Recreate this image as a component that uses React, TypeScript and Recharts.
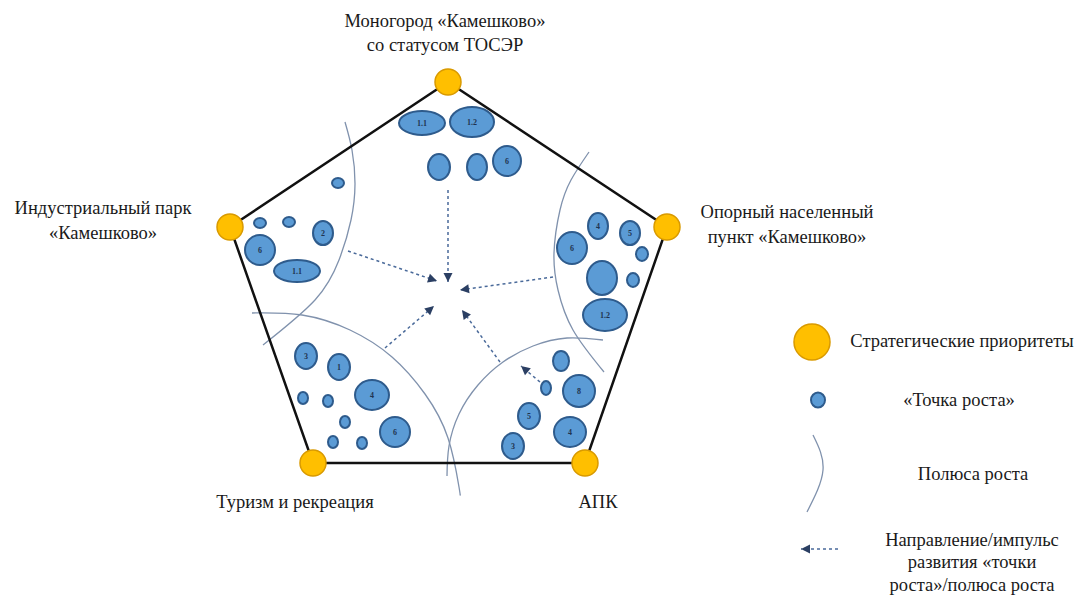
import React from "react";
import { ComposedChart, XAxis, YAxis, Line, Scatter } from "recharts";

// vertices of the pentagon (strategic priorities), closed
const priorities = [
  { x: 448, y: 82 },
  { x: 667, y: 227 },
  { x: 585, y: 463 },
  { x: 313, y: 463 },
  { x: 230, y: 227 },
];
const pentagon = [...priorities, priorities[0]];

// "точки роста"
const growthPoints = [
  // top
  { x: 422, y: 123, rx: 23, ry: 12, label: "1.1" },
  { x: 472, y: 122, rx: 22, ry: 15, label: "1.2" },
  { x: 439, y: 167, rx: 11, ry: 13, label: "" },
  { x: 477, y: 167, rx: 10, ry: 13, label: "" },
  { x: 507, y: 161, rx: 14, ry: 15, label: "6" },
  // left
  { x: 338, y: 183, rx: 6, ry: 5, label: "" },
  { x: 260, y: 223, rx: 6, ry: 5, label: "" },
  { x: 289, y: 222, rx: 6, ry: 5, label: "" },
  { x: 323, y: 233, rx: 10, ry: 12, label: "2" },
  { x: 260, y: 250, rx: 15, ry: 15, label: "6" },
  { x: 297, y: 271, rx: 23, ry: 11, label: "1.1" },
  // right
  { x: 598, y: 226, rx: 10, ry: 13, label: "4" },
  { x: 630, y: 233, rx: 10, ry: 12, label: "5" },
  { x: 642, y: 254, rx: 6, ry: 7, label: "" },
  { x: 572, y: 248, rx: 15, ry: 16, label: "6" },
  { x: 602, y: 278, rx: 15, ry: 17, label: "" },
  { x: 633, y: 280, rx: 6, ry: 7, label: "" },
  { x: 605, y: 315, rx: 22, ry: 16, label: "1.2" },
  // bottom left
  { x: 306, y: 356, rx: 11, ry: 13, label: "3" },
  { x: 339, y: 367, rx: 11, ry: 13, label: "1" },
  { x: 372, y: 395, rx: 17, ry: 15, label: "4" },
  { x: 303, y: 398, rx: 5, ry: 6, label: "" },
  { x: 328, y: 401, rx: 5, ry: 6, label: "" },
  { x: 345, y: 422, rx: 5, ry: 6, label: "" },
  { x: 395, y: 432, rx: 15, ry: 15, label: "6" },
  { x: 333, y: 442, rx: 5, ry: 6, label: "" },
  { x: 362, y: 443, rx: 5, ry: 6, label: "" },
  // bottom right
  { x: 561, y: 361, rx: 8, ry: 10, label: "" },
  { x: 546, y: 388, rx: 5, ry: 7, label: "" },
  { x: 579, y: 391, rx: 16, ry: 16, label: "8" },
  { x: 529, y: 416, rx: 11, ry: 13, label: "5" },
  { x: 570, y: 432, rx: 16, ry: 15, label: "4" },
  { x: 513, y: 446, rx: 11, ry: 13, label: "3" },
];

// "полюса роста" (points read along each arc)
const poleLeft = [
  { x: 345, y: 122 }, { x: 352, y: 150 }, { x: 355, y: 184 }, { x: 351, y: 220 },
  { x: 339, y: 260 }, { x: 315, y: 300 }, { x: 263, y: 345 },
];
const poleBottomLeft = [
  { x: 252, y: 313 }, { x: 302, y: 315 }, { x: 350, y: 330 }, { x: 392, y: 357 },
  { x: 425, y: 394 }, { x: 448, y: 438 }, { x: 459, y: 487 }, { x: 460, y: 494 },
];
const poleBottomRight = [
  { x: 603, y: 340 }, { x: 567, y: 338 }, { x: 533, y: 346 }, { x: 503, y: 362 },
  { x: 478, y: 385 }, { x: 459, y: 414 }, { x: 449, y: 446 }, { x: 447, y: 476 },
];
const poleRight = [
  { x: 589, y: 152 }, { x: 571, y: 180 }, { x: 560, y: 210 }, { x: 554, y: 253 },
  { x: 558, y: 290 }, { x: 573, y: 330 }, { x: 604, y: 372 },
];

// direction arrows: from -> to
const arrows = [
  { fx: 448, fy: 190, x: 448, y: 282 },
  { fx: 348, fy: 251, x: 437, y: 281 },
  { fx: 553, fy: 277, x: 460, y: 290 },
  { fx: 385, fy: 348, x: 434, y: 306 },
  { fx: 500, fy: 362, x: 462, y: 310 },
  { fx: 540, fy: 382, x: 521, y: 366 },
];

// legend
const legendPriority = [{ x: 812, y: 342, r: 18 }];
const legendPoint = [{ x: 818, y: 400, rx: 7, ry: 7.5, label: "" }];
const legendPole = [{ x: 813, y: 435 }, { x: 823, y: 470 }, { x: 807, y: 512 }];
const legendArrow = [{ fx: 838, fy: 549, x: 801, y: 549 }];

const labels = [
  { x: 445, y: 21, text: "Моногород «Камешково»" },
  { x: 445, y: 45, text: "со статусом ТОСЭР" },
  { x: 103, y: 208, text: "Индустриальный парк" },
  { x: 103, y: 233, text: "«Камешково»" },
  { x: 787, y: 212, text: "Опорный населенный" },
  { x: 787, y: 237, text: "пункт «Камешково»" },
  { x: 295, y: 502, text: "Туризм и рекреация" },
  { x: 598, y: 502, text: "АПК" },
  { x: 962, y: 341, text: "Стратегические приоритеты" },
  { x: 959, y: 400, text: "«Точка роста»" },
  { x: 973, y: 474, text: "Полюса роста" },
  { x: 972, y: 540, text: "Направление/импульс" },
  { x: 972, y: 562, text: "развития «точки" },
  { x: 972, y: 585, text: "роста»/полюса роста" },
];

const SERIF = "'Liberation Serif', 'Times New Roman', 'DejaVu Serif', serif";
const ORANGE = "#ffbf00";
const ORANGE_EDGE = "#d99a00";
const BLUE = "#5b9bd5";
const BLUE_EDGE = "#2e5b8c";
const POLE = "#8092ad";
const ARROW = "#4a6a9a";

const EllipseShape = (props: any) => {
  const { cx, cy, payload } = props;
  return (
    <g>
      <ellipse cx={cx} cy={cy} rx={payload.rx} ry={payload.ry} fill={BLUE} stroke={BLUE_EDGE} strokeWidth={2} />
      {payload.label ? (
        <text x={cx} y={cy} textAnchor="middle" dominantBaseline="central" style={{ fontFamily: SERIF, fontSize: 8, fontWeight: 700, fill: "#1f3350" }}>
          {payload.label}
        </text>
      ) : null}
    </g>
  );
};

const PriorityShape = (props: any) => {
  const { cx, cy, payload } = props;
  return <circle cx={cx} cy={cy} r={payload.r ?? 13} fill={ORANGE} stroke={ORANGE_EDGE} strokeWidth={1.5} />;
};

const HeadShape = (props: any) => {
  const { cx, cy, payload } = props;
  const deg = (Math.atan2(payload.y - payload.fy, payload.x - payload.fx) * 180) / Math.PI;
  return (
    <polygon points="0,0 -9,-4.5 -9,4.5" fill="#2b3f63" transform={`translate(${cx},${cy}) rotate(${deg})`} />
  );
};

const TextShape = (props: any) => {
  const { cx, cy, payload } = props;
  return (
    <text x={cx} y={cy} textAnchor="middle" dominantBaseline="central" style={{ fontFamily: SERIF, fontSize: 18.5, fill: "#1a1a1a" }}>
      {payload.text}
    </text>
  );
};

const poles = [poleLeft, poleBottomLeft, poleBottomRight, poleRight, legendPole];
const allArrows = [...arrows, ...legendArrow];

export default function App() {
  return (
    <div style={{ position: "absolute", left: 0, top: 0, background: "#fff" }}>
      <ComposedChart width={1080} height={598} margin={{ top: 0, right: 0, bottom: 0, left: 0 }}>
        <XAxis type="number" dataKey="x" domain={[0, 1080]} hide allowDataOverflow />
        <YAxis type="number" dataKey="y" domain={[0, 598]} reversed hide allowDataOverflow />
        {poles.map((p, i) => (
          <Line key={`pole${i}`} data={p} dataKey="y" type="natural" stroke={POLE} strokeWidth={1.3} dot={false} activeDot={false} isAnimationActive={false} />
        ))}
        <Line data={pentagon} dataKey="y" type="linear" stroke="#111" strokeWidth={2.5} dot={false} activeDot={false} isAnimationActive={false} />
        {allArrows.map((a, i) => (
          <Line
            key={`arrow${i}`}
            data={[{ x: a.fx, y: a.fy }, { x: a.x, y: a.y }]}
            dataKey="y"
            type="linear"
            stroke={ARROW}
            strokeWidth={1.5}
            strokeDasharray="3 3"
            dot={false}
            activeDot={false}
            isAnimationActive={false}
          />
        ))}
        <Scatter data={allArrows} dataKey="y" shape={HeadShape} isAnimationActive={false} />
        <Scatter data={[...growthPoints, ...legendPoint]} dataKey="y" shape={EllipseShape} isAnimationActive={false} />
        <Scatter data={[...priorities, ...legendPriority]} dataKey="y" shape={PriorityShape} isAnimationActive={false} />
        <Scatter data={labels} dataKey="y" shape={TextShape} isAnimationActive={false} />
      </ComposedChart>
    </div>
  );
}
